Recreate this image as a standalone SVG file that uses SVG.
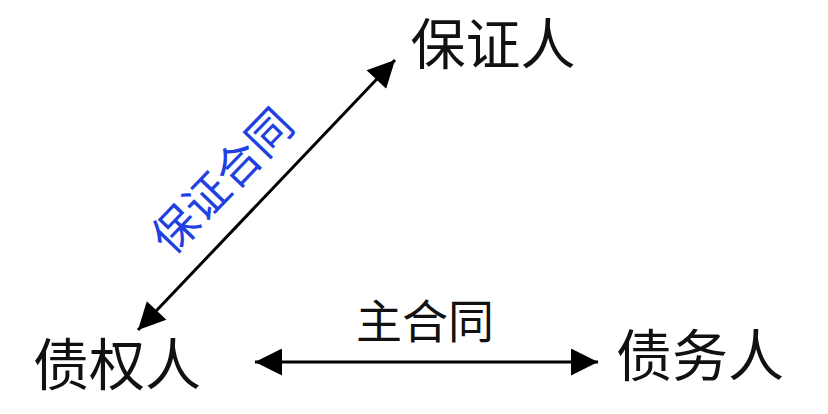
<svg xmlns="http://www.w3.org/2000/svg" width="828" height="414" viewBox="0 0 828 414">
<style>
.t{font-family:"Noto Sans CJK SC",sans-serif;fill:#111}
.c{stroke:#000;stroke-width:3;fill:none}
</style>
<defs>
<marker id="a" viewBox="0 0 10 10" refX="10" refY="5" markerWidth="13" markerHeight="9" markerUnits="strokeWidth" orient="auto-start-reverse">
<path d="M0,0L10,5L0,10z" fill="#000"/>
</marker>
</defs>
<rect width="828" height="414" fill="#fff"/>
<g id="n1"><text class="t" x="493" y="64" font-size="55" text-anchor="middle">保证人</text></g>
<g id="n2"><text class="t" x="117" y="385" font-size="56" text-anchor="middle">债权人</text></g>
<g id="n3"><text class="t" x="700" y="376" font-size="56" text-anchor="middle">债务人</text></g>
<g id="connectors">
<line class="c" x1="138" y1="330" x2="395" y2="60" marker-start="url(#a)" marker-end="url(#a)"/>
<line class="c" x1="255" y1="362" x2="598" y2="362" marker-start="url(#a)" marker-end="url(#a)"/>
<text class="t" x="425" y="338" font-size="46" text-anchor="middle">主合同</text>
<text class="t" x="0" y="0" font-size="45" text-anchor="middle" style="fill:#2040e0" transform="translate(234,192) rotate(-46)">保证合同</text>
</g>
</svg>
